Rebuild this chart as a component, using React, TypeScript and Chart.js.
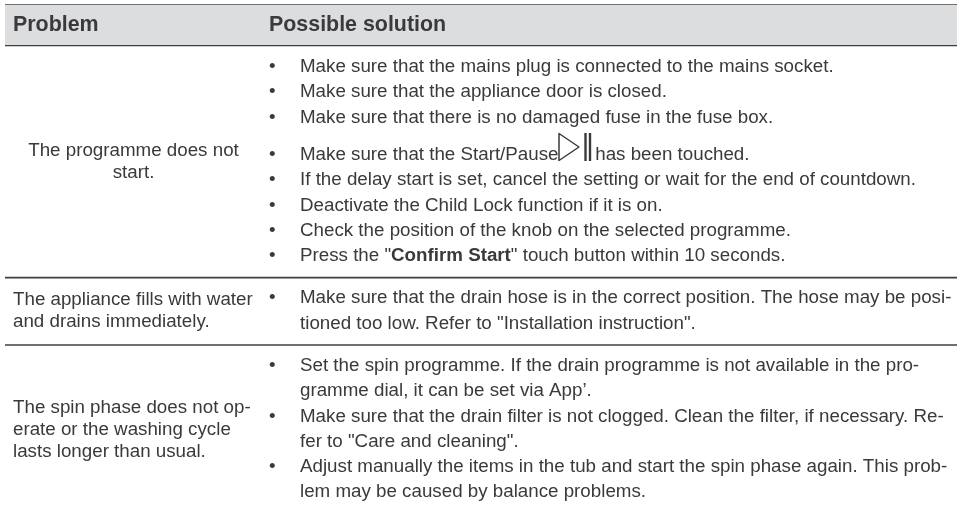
import React, { useEffect, useRef } from "react";
import { Chart, registerables } from "chart.js";

Chart.register(...registerables);

const headers = ["Problem", "Possible solution"];
const problemLines = [
  ["The programme does not", "start."],
  ["The appliance fills with water", "and drains immediately."],
  ["The spin phase does not op-", "erate or the washing cycle", "lasts longer than usual."],
];
const solutionLines: [string, boolean][] = [
  ["Make sure that the mains plug is connected to the mains socket.", true],
  ["Make sure that the appliance door is closed.", true],
  ["Make sure that there is no damaged fuse in the fuse box.", true],
  ["Make sure that the Start/Pause", true],
  ["If the delay start is set, cancel the setting or wait for the end of countdown.", true],
  ["Deactivate the Child Lock function if it is on.", true],
  ["Check the position of the knob on the selected programme.", true],
  ['Press the "|Confirm Start|" touch button within 10 seconds.', true],
  ["Make sure that the drain hose is in the correct position. The hose may be posi-", true],
  ['tioned too low. Refer to "Installation instruction".', false],
  ["Set the spin programme. If the drain programme is not available in the pro-", true],
  ["gramme dial, it can be set via App\u2019.", false],
  ["Make sure that the drain filter is not clogged. Clean the filter, if necessary. Re-", true],
  ['fer to "Care and cleaning".', false],
  ["Adjust manually the items in the tub and start the spin phase again. This prob-", true],
  ["lem may be caused by balance problems.", false],
];
const solutionTail = " has been touched.";
const solutionY = [72, 97, 123, 160, 185, 210.5, 235.5, 261, 303, 329, 371, 396, 422, 447, 472, 497];
const problemY = [[156, 178], [305, 327], [413, 435, 457]];
const ruleY = [5, 45.5, 277.7, 345];

const FONT = "Liberation Sans, Arial, sans-serif";
const TEXT = "#3a3a3c";
const BODY = 18.75;
const HEAD = 21.4;

const tablePlugin = {
  id: "table",
  afterDraw(chart: any) {
    const { ctx, scales } = chart;
    const X = (v: number) => scales.x.getPixelForValue(v);
    const Y = (v: number) => scales.y.getPixelForValue(v);
    ctx.save();
    ctx.textBaseline = "alphabetic";
    ctx.fillStyle = TEXT;
    ctx.font = `bold ${HEAD}px ${FONT}`;
    ctx.fillText(headers[0], X(13), Y(31));
    ctx.fillText(headers[1], X(269), Y(31));

    ctx.font = `${BODY}px ${FONT}`;
    ctx.textAlign = "center";
    ctx.fillText(problemLines[0][0], X(133.5), Y(problemY[0][0]));
    ctx.fillText(problemLines[0][1], X(133.5), Y(problemY[0][1]));
    ctx.textAlign = "left";
    problemLines.slice(1).forEach((lines, i) =>
      lines.forEach((l, j) => ctx.fillText(l, X(13), Y(problemY[i + 1][j])))
    );

    solutionLines.forEach(([text, bullet], i) => {
      const y = Y(solutionY[i]);
      ctx.font = `${BODY}px ${FONT}`;
      if (bullet) ctx.fillText("\u2022", X(269), y);
      let x = X(300);
      text.split("|").forEach((part, k) => {
        ctx.font = `${k === 1 ? "bold " : ""}${BODY}px ${FONT}`;
        ctx.fillText(part, x, y);
        x += ctx.measureText(part).width;
      });
    });

    // play / pause icon
    const iy = Y(160);
    ctx.strokeStyle = TEXT;
    ctx.lineWidth = 1.5;
    ctx.lineJoin = "round";
    ctx.beginPath();
    ctx.moveTo(X(559), iy - 26.5);
    ctx.lineTo(X(579), iy - 13);
    ctx.lineTo(X(559), iy + 0.5);
    ctx.closePath();
    ctx.stroke();
    ctx.lineWidth = 2.4;
    [585.5, 590].forEach((v) => {
      ctx.beginPath();
      ctx.moveTo(X(v), iy - 27);
      ctx.lineTo(X(v), iy + 1);
      ctx.stroke();
    });
    ctx.font = `${BODY}px ${FONT}`;
    ctx.fillText(solutionTail, X(590), iy);
    ctx.restore();
  },
};

export default function App() {
  const ref = useRef<HTMLCanvasElement>(null);
  useEffect(() => {
    document.body.style.margin = "0";
    const chart = new Chart(ref.current!, {
      type: "line",
      data: {
        datasets: [
          {
            label: "Header",
            data: [{ x: 5, y: 45 }, { x: 957, y: 45 }],
            fill: { target: { value: 5 } },
            backgroundColor: "#dcddde",
            borderWidth: 0,
            pointRadius: 0,
          },
          ...ruleY.map((y) => ({
            label: "Rule",
            data: [{ x: 5, y }, { x: 957, y }],
            borderColor: "#3f3f41",
            borderWidth: 1.7,
            pointRadius: 0,
          })),
        ],
      },
      options: {
        animation: false,
        responsive: false,
        layout: { padding: 0 },
        plugins: { legend: { display: false }, tooltip: { enabled: false } },
        scales: {
          x: { type: "linear", min: 0, max: 962, display: false },
          y: { type: "linear", min: 0, max: 509, reverse: true, display: false },
        },
      },
      plugins: [tablePlugin],
    } as any);
    return () => chart.destroy();
  }, []);
  return <canvas ref={ref} width={962} height={509} style={{ display: "block" }} />;
}
